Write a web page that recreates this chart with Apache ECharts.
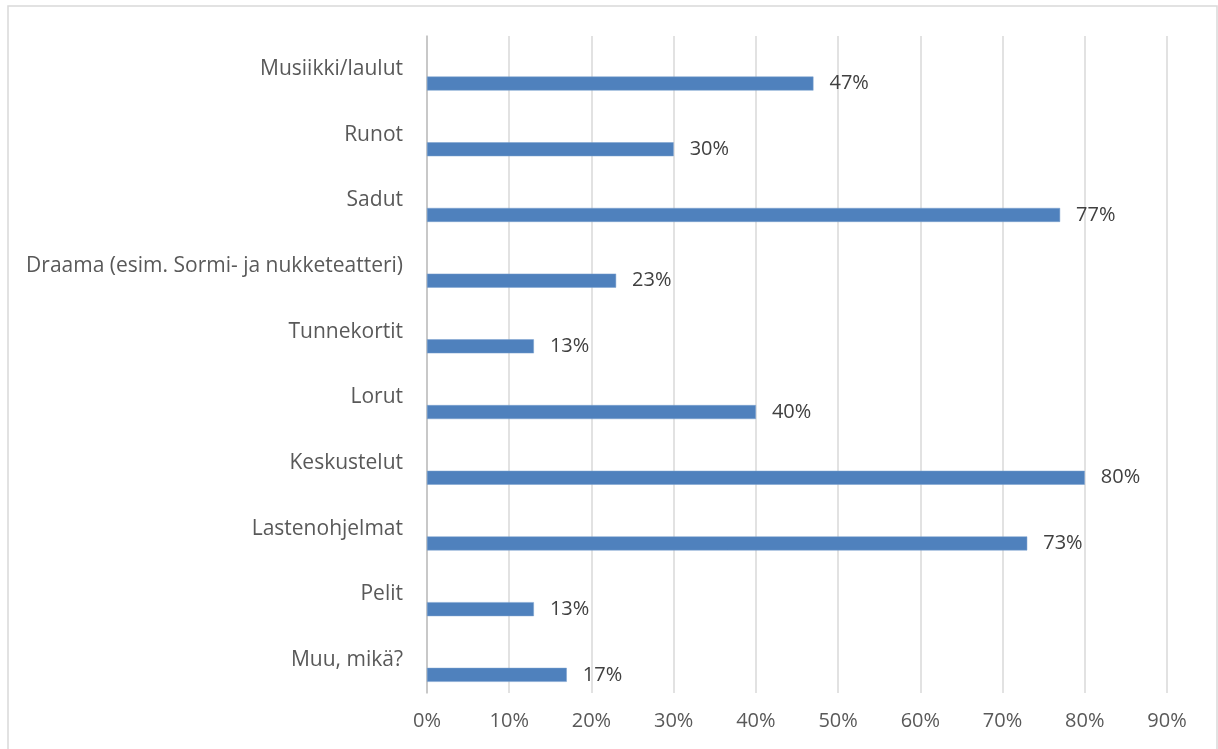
<!DOCTYPE html>
<html>
<head>
<meta charset="utf-8">
<script src="https://cdn.jsdelivr.net/npm/echarts@6/dist/echarts.min.js"></script>
<style>
  html, body { margin: 0; padding: 0; background: #fff; }
  #chart { width: 1218px; height: 749px; }
</style>
</head>
<body>
<div id="chart"></div>
<script>
// kategoriat ylhäältä alas
var categories = ['Musiikki/laulut', 'Runot', 'Sadut', 'Draama (esim. Sormi- ja nukketeatteri)',
                  'Tunnekortit', 'Lorut', 'Keskustelut', 'Lastenohjelmat', 'Pelit', 'Muu, mikä?'];
var values = [47, 30, 77, 23, 13, 40, 80, 73, 13, 17];   // prosentit
var emptyValues = [null, null, null, null, null, null, null, null, null, null]; // tyhjä sarja (Excel-siirtymä)

var chart = echarts.init(document.getElementById('chart'));

var option = {
    backgroundColor: '#fff',
    animation: false,
    textStyle: { fontFamily: 'Open Sans' },
    graphic: [{
        type: 'rect',
        shape: { x: 8, y: 6, width: 1209, height: 760 },
        style: { fill: 'none', stroke: '#d9d9d9', lineWidth: 1.5 },
        silent: true
    }],
    grid: { left: 427, right: 51, top: 36, bottom: 56 },
    xAxis: {
        type: 'value',
        min: 0,
        max: 90,
        interval: 10,
        axisLine: { show: false },
        axisTick: { show: false },
        axisLabel: {
            formatter: '{value}%',
            color: '#595959',
            fontSize: 20,
            margin: 18
        },
        splitLine: { lineStyle: { color: '#d9d9d9', width: 1.5 } }
    },
    yAxis: {
        type: 'category',
        inverse: true,
        data: categories,
        axisLine: { lineStyle: { color: '#bfbfbf', width: 1.5 } },
        axisTick: { length: 7, lineStyle: { color: '#d9d9d9', width: 1.5 } },
        axisLabel: {
            color: '#595959',
            fontSize: 21,
            margin: 24
        }
    },
    series: [
        {
            name: 'tyhjä',
            type: 'bar',
            barWidth: 14,
            barGap: '110%',
            data: emptyValues
        },
        {
            name: 'osuus',
            type: 'bar',
            barWidth: 14,
            barGap: '110%',
            itemStyle: { color: '#4f81bd', borderColor: '#7aa0cf', borderWidth: 0.5 },
            label: {
                show: true,
                position: 'right',
                distance: 16,
                formatter: '{c}%',
                color: '#404040',
                fontSize: 20
            },
            data: values
        }
    ]
};
chart.setOption(option);
</script>
</body>
</html>
